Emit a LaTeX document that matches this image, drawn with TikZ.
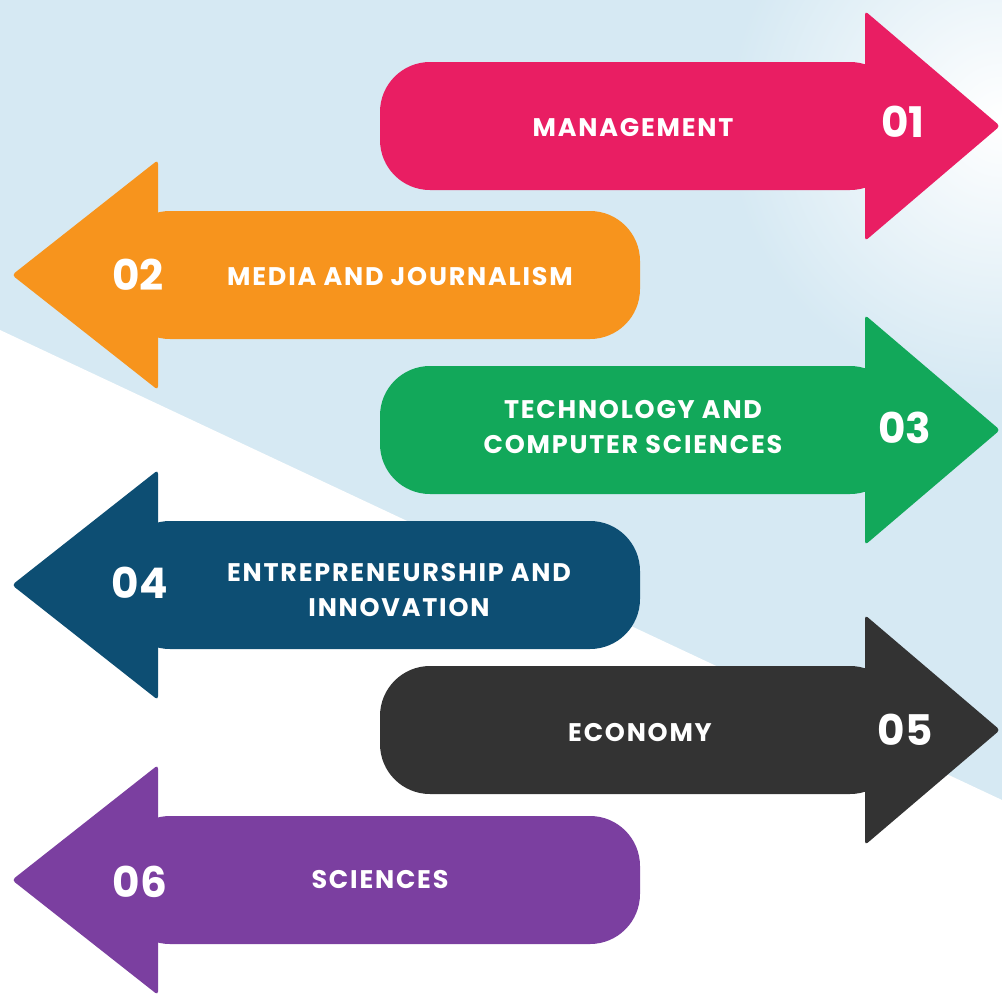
\documentclass[tikz,border=0pt]{standalone}
\usepackage{fontspec}
\setmainfont{Poppins}
\usetikzlibrary{positioning,calc}
\definecolor{bgblue}{HTML}{D6E9F3}
\definecolor{mgmtpink}{HTML}{E91E63}
\definecolor{mediaorange}{HTML}{F7941D}
\definecolor{techgreen}{HTML}{12A85A}
\definecolor{entrnavy}{HTML}{0D4E73}
\definecolor{econgray}{HTML}{333333}
\definecolor{scipurple}{HTML}{7B3FA0}
\tikzset{
  txt/.style = {text=white, align=center, inner sep=0pt,
                font=\bfseries\fontsize{14.5}{19.5}\selectfont\addfontfeature{LetterSpace=7}},
  num/.style = {text=white, inner sep=0pt,
                font=\bfseries\fontsize{24}{26}\selectfont},
  body/.style = {rounded corners=1cm},
  head/.style = {rounded corners=2pt}
}
\begin{document}
\begin{tikzpicture}[x=0.02cm, y=-0.02cm]
  \useasboundingbox (0,0) rectangle (1002,995);
  % background
  \fill[bgblue] (0,0) rectangle (1002,995);
  \shade[inner color=white, outer color=bgblue] (1002,120) circle (5.5cm);
  \fill[white] (0,330) -- (1002,800) -- (1002,995) -- (0,995) -- cycle;

  % 01
  \fill[mgmtpink, body] (380,62) rectangle (900,190);
  \fill[mgmtpink, head] (865,11) -- (1000,126) -- (865,241) -- cycle;
  \node[txt] (mgmt) at (633,128) {MANAGEMENT};
  \node[num] (n01) at (903,122) {01};

  % 02
  \fill[mediaorange, body] (120,211) rectangle (640,339);
  \fill[mediaorange, head] (158,160) -- (12,275) -- (158,390) -- cycle;
  \node[num] (n02) at (138,275) {02};
  \node[txt] (media) at (400,277) {MEDIA AND JOURNALISM};

  % 03
  \fill[techgreen, body] (380,366) rectangle (900,494);
  \fill[techgreen, head] (865,315) -- (1000,430) -- (865,545) -- cycle;
  \node[txt] (tech) at (633,427) {TECHNOLOGY AND\\COMPUTER SCIENCES};
  \node[num] (n03) at (905,428) {03};

  % 04
  \fill[entrnavy, body] (120,521) rectangle (640,649);
  \fill[entrnavy, head] (158,470) -- (12,585) -- (158,700) -- cycle;
  \node[num] (n04) at (140,583) {04};
  \node[txt] (entr) at (399,590) {ENTREPRENEURSHIP AND\\INNOVATION};

  % 05
  \fill[econgray, body] (380,666) rectangle (900,794);
  \fill[econgray, head] (865,615) -- (1000,730) -- (865,845) -- cycle;
  \node[txt] (econ) at (640,733) {ECONOMY};
  \node[num] (n05) at (905,730) {05};

  % 06
  \fill[scipurple, body] (120,816) rectangle (640,944);
  \fill[scipurple, head] (158,765) -- (12,880) -- (158,995) -- cycle;
  \node[num] (n06) at (140,882) {06};
  \node[txt] (sci) at (380,880) {SCIENCES};
\end{tikzpicture}
\end{document}
